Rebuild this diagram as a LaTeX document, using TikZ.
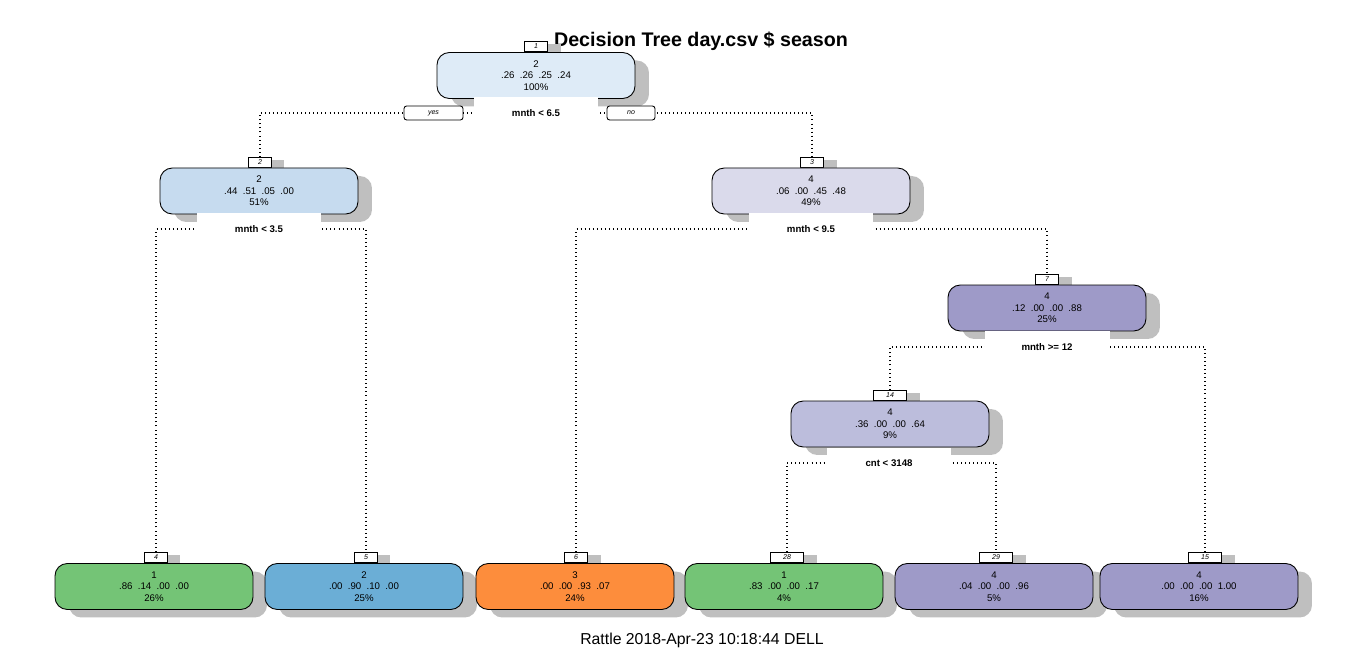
\documentclass[tikz,border=0pt]{standalone}
\usepackage{fontspec}
\setmainfont{Liberation Sans}
\usepackage{xcolor}
\usetikzlibrary{shadows,backgrounds,positioning}

\definecolor{rootblue}{HTML}{DEEBF7}
\definecolor{paleblue}{HTML}{C6DBEF}
\definecolor{palepurple}{HTML}{DADAEB}
\definecolor{midpurple}{HTML}{BCBDDC}
\definecolor{deeppurple}{HTML}{9E9AC8}
\definecolor{leafgreen}{HTML}{74C476}
\definecolor{leafblue}{HTML}{6BAED6}
\definecolor{leaforange}{HTML}{FD8D3C}

\newcommand{\treefont}{\fontsize{5.5}{6.5}\selectfont}
\newcommand{\numfont}{\fontsize{4}{4}\selectfont\itshape}

\begin{document}
\begin{tikzpicture}[
		x=0.02cm, y=-0.02cm,
		tnode/.style={draw, line width=0.5pt, rounded corners=7pt, minimum width=3.96cm, minimum height=0.92cm,
				inner sep=0pt, align=center, font=\treefont,
				drop shadow={shadow xshift=0.28cm, shadow yshift=-0.16cm, fill=black!25, opacity=1}},
		numbox/.style={draw, line width=0.5pt, fill=white, minimum width=0.46cm, minimum height=0.21cm,
				inner sep=0pt, anchor=south, font=\numfont,
				drop shadow={shadow xshift=0.26cm, shadow yshift=-0.06cm, fill=black!25, opacity=1}},
		yesno/.style={draw, line width=0.5pt, fill=white, rounded corners=1.5pt, minimum height=0.28cm,
				inner sep=0pt, font=\numfont},
		splitlab/.style={fill=white, minimum width=2.5cm, minimum height=0.62cm, inner sep=0pt,
				font=\treefont\bfseries},
		branch/.style={line width=0.6pt, dash pattern=on 0.5pt off 1.8pt}
	]
	\useasboundingbox (0,0) rectangle (1366,651);

	\node[font=\fontsize{11.2}{13}\selectfont\bfseries] (title) at (701,41) {Decision Tree day.csv \$ season};

	% level 0
	\node[numbox] (l1) at (536,52) {1};
	\node[tnode, fill=rootblue] (n1) at (536,75.5) {2\\.26~~.26~~.25~~.24\\100\%};
	\node[splitlab] (s1) at (536,113) {mnth < 6.5};
	\node[yesno, minimum width=1.18cm] (yes1) at (433.5,113) {yes};
	\node[yesno, minimum width=0.96cm] (no1) at (631,113) {no};

	% level 1
	\node[numbox] (l2) at (260,168) {2};
	\node[tnode, fill=paleblue] (n2) at (259,191) {2\\.44~~.51~~.05~~.00\\51\%};
	\node[splitlab] (s2) at (259,229) {mnth < 3.5};

	\node[numbox] (l3) at (812,168) {3};
	\node[tnode, fill=palepurple] (n3) at (811,191) {4\\.06~~.00~~.45~~.48\\49\%};
	\node[splitlab] (s3) at (811,229) {mnth < 9.5};

	% level 2
	\node[numbox] (l7) at (1047,285) {7};
	\node[tnode, fill=deeppurple] (n7) at (1047,308) {4\\.12~~.00~~.00~~.88\\25\%};
	\node[splitlab] (s7) at (1047,347) {mnth >= 12};

	% level 3
	\node[numbox, minimum width=0.66cm] (l14) at (890,401) {14};
	\node[tnode, fill=midpurple] (n14) at (890,424) {4\\.36~~.00~~.00~~.64\\9\%};
	\node[splitlab] (s14) at (889,463) {cnt < 3148};

	% leaves
	\node[numbox] (l4) at (156,563) {4};
	\node[tnode, fill=leafgreen] (n4) at (154,586.5) {1\\.86~~.14~~.00~~.00\\26\%};
	\node[numbox] (l5) at (366,563) {5};
	\node[tnode, fill=leafblue] (n5) at (364,586.5) {2\\.00~~.90~~.10~~.00\\25\%};
	\node[numbox] (l6) at (576,563) {6};
	\node[tnode, fill=leaforange] (n6) at (575,586.5) {3\\.00~~.00~~.93~~.07\\24\%};
	\node[numbox, minimum width=0.66cm] (l28) at (787,563) {28};
	\node[tnode, fill=leafgreen] (n28) at (784,586.5) {1\\.83~~.00~~.00~~.17\\4\%};
	\node[numbox, minimum width=0.66cm] (l29) at (996,563) {29};
	\node[tnode, fill=deeppurple] (n29) at (994,586.5) {4\\.04~~.00~~.00~~.96\\5\%};
	\node[numbox, minimum width=0.66cm] (l15) at (1205,563) {15};
	\node[tnode, fill=deeppurple] (n15) at (1199,586.5) {4\\.00~~.00~~.00~~1.00\\16\%};

	\node[font=\fontsize{9}{11}\selectfont] (footer) at (702,640) {Rattle 2018-Apr-23 10:18:44 DELL};

	\begin{scope}[on background layer]
		\fill[white] (0,0) rectangle (1366,651);
		\draw[branch] (l2.north) |- (s1.center) -| (l3.north);
		\draw[branch] (l4.north) |- (s2.center) -| (l5.north);
		\draw[branch] (l6.north) |- (s3.center) -| (l7.north);
		\draw[branch] (l14.north) |- (s7.center) -| (l15.north);
		\draw[branch] (l28.north) |- (s14.center) -| (l29.north);
	\end{scope}
\end{tikzpicture}
\end{document}
